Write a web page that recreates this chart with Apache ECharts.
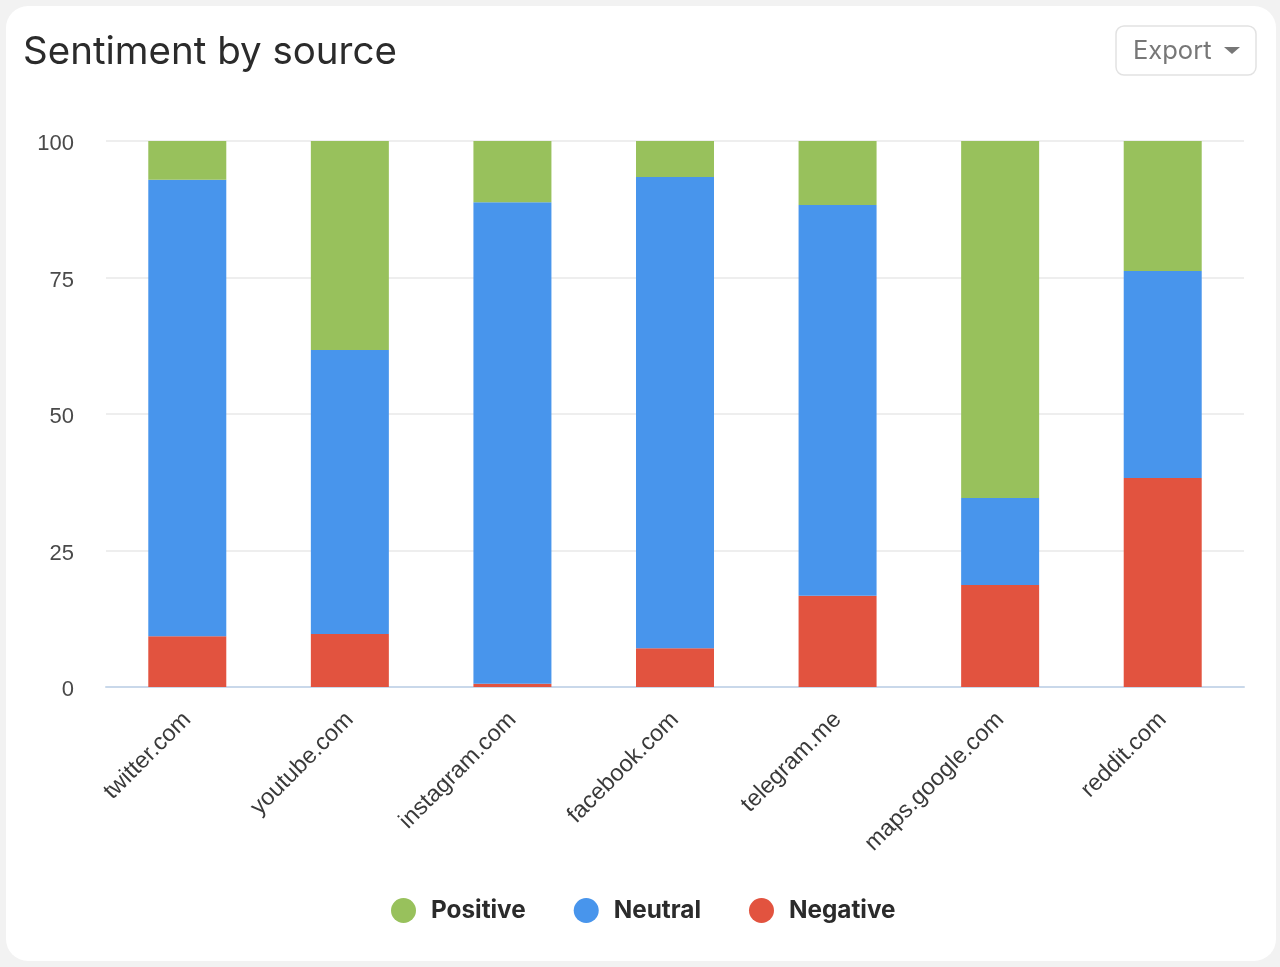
<!DOCTYPE html>
<html lang="en" style="height: 100%">
<head>
    <meta charset="utf-8">
</head>
<body style="height: 100%; margin: 0; background: #f2f2f2">
<div id="card" style="position: absolute; left: 6px; top: 6px; width: 1270px; height: 955px; background: #fff; border-radius: 22px"></div>
<div id="container" style="position: absolute; left: 0; top: 0; width: 1280px; height: 967px"></div>

<script type="text/javascript" src="https://fastly.jsdelivr.net/npm/echarts@6/dist/echarts.min.js"></script>
<script type="text/javascript">
    var categories = ['twitter.com', 'youtube.com', 'instagram.com', 'facebook.com', 'telegram.me', 'maps.google.com', 'reddit.com'];
    var negative = [9.3, 9.7, 0.6, 7.1, 16.7, 18.7, 38.3];
    var neutral = [83.6, 52.0, 88.2, 86.3, 71.6, 15.9, 37.9];
    var positive = [7.1, 38.3, 11.2, 6.6, 11.7, 65.4, 23.8];
    var yTicks = [0, 25, 50, 75, 100];

    var myChart = echarts.init(document.getElementById('container'), null, { renderer: 'canvas' });

    function barSeries(name, data, color) {
        return {
            name: name,
            type: 'bar',
            stack: 'total',
            barWidth: 78,
            animation: false,
            itemStyle: { color: color },
            data: data
        };
    }

    var option = {
        backgroundColor: 'transparent',
        title: {
            text: 'Sentiment by source',
            left: 18,
            top: 28,
            textStyle: { fontFamily: 'Inter', fontSize: 38.5, fontWeight: 'normal', color: '#2b2b2b' }
        },
        legend: {
            data: ['Positive', 'Neutral', 'Negative'],
            left: 386,
            top: 893,
            icon: 'circle',
            itemWidth: 25,
            itemHeight: 25,
            itemGap: 48,
            textStyle: { fontFamily: 'Inter', fontSize: 24.3, fontWeight: 'bold', color: '#2b2b2b', padding: [0, 0, 0, 10] }
        },
        grid: { left: 106, right: 36, top: 141, bottom: 280 },
        xAxis: {
            type: 'category',
            data: categories,
            axisTick: { show: false },
            axisLine: { lineStyle: { color: '#c9d8ea', width: 2 } },
            axisLabel: {
                rotate: 45,
                margin: 29,
                interval: 0,
                fontFamily: 'Liberation Sans',
                fontSize: 23.5,
                color: '#3a3a3a'
            }
        },
        yAxis: {
            type: 'value',
            min: 0,
            max: 100,
            interval: 25,
            axisLine: { show: false },
            axisTick: { show: false },
            splitLine: { lineStyle: { color: '#eeeeee', width: 2 } },
            axisLabel: {
                margin: 32,
                fontFamily: 'Liberation Sans',
                fontSize: 22,
                color: '#4a4a4a',
                verticalAlign: 'top',
                lineHeight: 6,
                formatter: function (v) { return yTicks.indexOf(v) >= 0 ? String(v) : ''; }
            }
        },
        graphic: [
            {
                type: 'rect',
                shape: { x: 1116, y: 26, width: 140, height: 49, r: 8 },
                style: { fill: '#fff', stroke: '#e2e2e2', lineWidth: 1.5 }
            },
            {
                type: 'text',
                x: 1133,
                y: 38,
                style: { text: 'Export', fontFamily: 'Inter', fontSize: 25.5, fill: '#777777' }
            },
            {
                type: 'polygon',
                shape: { points: [[1224, 47], [1240, 47], [1232, 54]] },
                style: { fill: '#777777' }
            }
        ],
        series: [
            barSeries('Negative', negative, '#e2533f'),
            barSeries('Neutral', neutral, '#4895ec'),
            barSeries('Positive', positive, '#98c15c')
        ]
    };

    myChart.setOption(option);
    window.addEventListener('resize', myChart.resize);
</script>
</body>
</html>
